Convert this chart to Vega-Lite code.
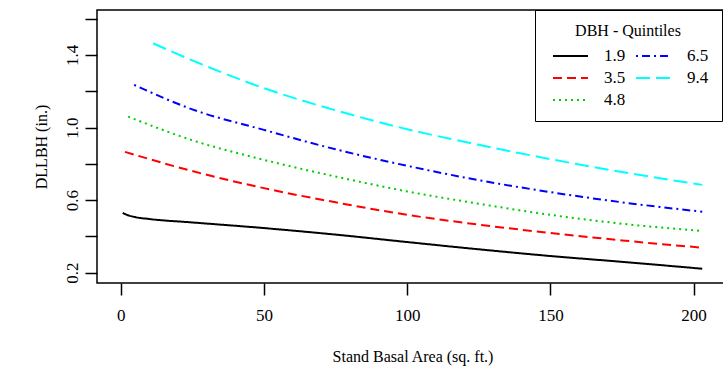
{
  "$schema": "https://vega.github.io/schema/vega-lite/v6.json",
  "autosize": {"type": "none"},
  "width": 631,
  "height": 273,
  "padding": {"left": 97, "top": 10, "right": 0, "bottom": 92},
  "background": "white",
  "config": {
    "font": "Liberation Serif",
    "style": {"guide-label": {"font": "Liberation Serif", "fill": "black"}, "guide-title": {"font": "Liberation Serif", "fill": "black"}},
    "view": {"stroke": "black", "strokeWidth": 1.5},
    "axis": {"grid": false, "domain": false, "tickColor": "black", "tickWidth": 1.5, "tickSize": 12, "labelColor": "black", "titleColor": "black", "labelFont": "Liberation Serif", "titleFont": "Liberation Serif", "labelFontSize": 17, "titleFontSize": 16, "titleFontWeight": "normal"},
    "legend": {"labelFont": "Liberation Serif", "titleFont": "Liberation Serif"}
  },
  "data": {"values": [
    {"q": "1.9", "x": 0.7, "y": 0.53},
    {"q": "1.9", "x": 2, "y": 0.52},
    {"q": "1.9", "x": 4.3, "y": 0.509},
    {"q": "1.9", "x": 10, "y": 0.496},
    {"q": "1.9", "x": 25, "y": 0.477},
    {"q": "1.9", "x": 50, "y": 0.446},
    {"q": "1.9", "x": 75, "y": 0.41},
    {"q": "1.9", "x": 100, "y": 0.369},
    {"q": "1.9", "x": 125, "y": 0.329},
    {"q": "1.9", "x": 150, "y": 0.292},
    {"q": "1.9", "x": 175, "y": 0.26},
    {"q": "1.9", "x": 203, "y": 0.222},
    {"q": "3.5", "x": 1.5, "y": 0.866},
    {"q": "3.5", "x": 25, "y": 0.76},
    {"q": "3.5", "x": 50, "y": 0.666},
    {"q": "3.5", "x": 75, "y": 0.588},
    {"q": "3.5", "x": 100, "y": 0.519},
    {"q": "3.5", "x": 125, "y": 0.465},
    {"q": "3.5", "x": 150, "y": 0.419},
    {"q": "3.5", "x": 175, "y": 0.378},
    {"q": "3.5", "x": 203, "y": 0.338},
    {"q": "4.8", "x": 2.6, "y": 1.06},
    {"q": "4.8", "x": 25, "y": 0.93},
    {"q": "4.8", "x": 50, "y": 0.822},
    {"q": "4.8", "x": 75, "y": 0.73},
    {"q": "4.8", "x": 100, "y": 0.648},
    {"q": "4.8", "x": 125, "y": 0.58},
    {"q": "4.8", "x": 150, "y": 0.519},
    {"q": "4.8", "x": 175, "y": 0.47},
    {"q": "4.8", "x": 203, "y": 0.43},
    {"q": "6.5", "x": 4.7, "y": 1.235},
    {"q": "6.5", "x": 25, "y": 1.1},
    {"q": "6.5", "x": 50, "y": 0.987},
    {"q": "6.5", "x": 75, "y": 0.88},
    {"q": "6.5", "x": 100, "y": 0.789},
    {"q": "6.5", "x": 125, "y": 0.71},
    {"q": "6.5", "x": 150, "y": 0.644},
    {"q": "6.5", "x": 175, "y": 0.588},
    {"q": "6.5", "x": 203, "y": 0.536},
    {"q": "9.4", "x": 11.3, "y": 1.464},
    {"q": "9.4", "x": 25, "y": 1.37},
    {"q": "9.4", "x": 50, "y": 1.217},
    {"q": "9.4", "x": 75, "y": 1.095},
    {"q": "9.4", "x": 100, "y": 0.991},
    {"q": "9.4", "x": 125, "y": 0.905},
    {"q": "9.4", "x": 150, "y": 0.826},
    {"q": "9.4", "x": 175, "y": 0.755},
    {"q": "9.4", "x": 203, "y": 0.684}
  ]},
  "mark": {"type": "line", "strokeWidth": 2, "interpolate": "monotone"},
  "encoding": {
    "x": {"field": "x", "type": "quantitative", "title": "Stand Basal Area (sq. ft.)",
      "scale": {"domain": [-8.27, 212], "nice": false, "zero": false},
      "axis": {"values": [0, 50, 100, 150, 200], "labelFont": "Liberation Serif", "labelPadding": 12, "titlePadding": 25}},
    "y": {"field": "y", "type": "quantitative", "title": "DLLBH (in.)",
      "scale": {"domain": [0.1433, 1.6477], "nice": false, "zero": false},
      "axis": {"values": [0.2, 0.4, 0.6, 0.8, 1.0, 1.2, 1.4, 1.6], "labelFont": "Liberation Serif", "labelAngle": -90, "labelAlign": "center", "labelBaseline": "bottom", "labelPadding": 4, "titlePadding": 14,
        "labelExpr": "indexof(['0.2','0.6','1.0','1.4'], format(datum.value, '.1f')) >= 0 ? format(datum.value, '.1f') : ''"}},
    "color": {"field": "q", "type": "nominal", "title": "DBH - Quintiles",
      "scale": {"domain": ["1.9", "6.5", "3.5", "9.4", "4.8"], "range": ["#000000", "#0000FF", "#FF0000", "#00FFFF", "#00CD00"]},
      "legend": {"orient": "none", "legendX": 438, "legendY": 0, "columns": 2, "direction": "horizontal", "strokeColor": "black", "fillColor": "white", "padding": 13, "symbolOffset": 11.5, "symbolType": "M-1.75,0H1.75", "symbolSize": 400, "symbolStrokeWidth": 2, "labelFont": "Liberation Serif", "labelFontSize": 17, "labelColor": "black", "labelOffset": 22.5, "columnPadding": 5, "rowPadding": 3, "titleFont": "Liberation Serif", "titleFontSize": 16, "titleFontWeight": "normal", "titleColor": "black", "titleAnchor": "middle", "titlePadding": 6}},
    "strokeDash": {"field": "q", "type": "nominal", "title": "DBH - Quintiles",
      "scale": {"domain": ["1.9", "6.5", "3.5", "9.4", "4.8"], "range": [[1, 0], [2, 4, 8, 4], [9, 5], [14, 6], [2, 4]]},
      "legend": {"orient": "none", "legendX": 438, "legendY": 0, "columns": 2, "direction": "horizontal", "strokeColor": "black", "fillColor": "white", "padding": 13, "symbolOffset": 11.5, "symbolType": "M-1.75,0H1.75", "symbolSize": 400, "symbolStrokeWidth": 2, "labelFont": "Liberation Serif", "labelFontSize": 17, "labelColor": "black", "labelOffset": 22.5, "columnPadding": 5, "rowPadding": 3, "titleFont": "Liberation Serif", "titleFontSize": 16, "titleFontWeight": "normal", "titleColor": "black", "titleAnchor": "middle", "titlePadding": 6}}
  }
}
